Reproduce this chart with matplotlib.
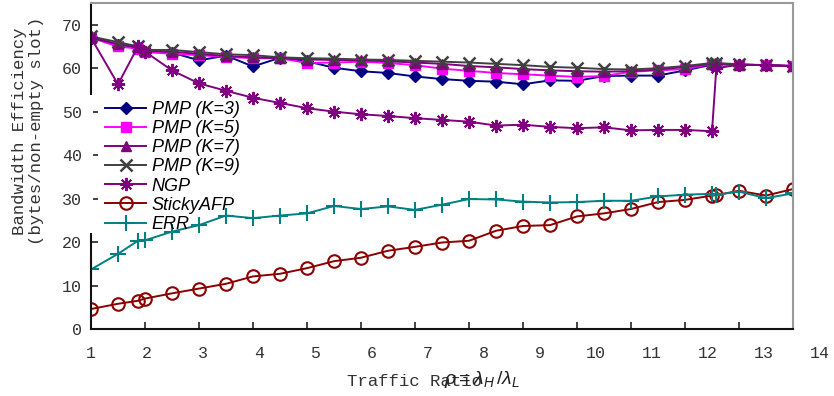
import matplotlib
matplotlib.use("Agg")
import matplotlib.pyplot as plt
import matplotlib.transforms as mtransforms
from matplotlib.patches import Rectangle

plt.rcParams['mathtext.fontset'] = 'custom'
plt.rcParams['mathtext.it'] = 'Liberation Sans:italic'
plt.rcParams['mathtext.rm'] = 'Liberation Sans'

# ---- data ----
traffic_ratio = [1, 1.5, 1.87, 2, 2.5, 3, 3.5, 4, 4.5, 5, 5.5, 6, 6.5, 7, 7.5, 8, 8.5,
                 9, 9.5, 10, 10.5, 11, 11.5, 12, 12.5, 12.58, 13, 13.5, 14]

pmp_k3 = [67.2, 65.4, 64.9, 63.7, 63.6, 61.8, 62.9, 60.4, 62.4, 61.6, 60.1, 59.3, 58.9,
          58.1, 57.5, 57.1, 56.9, 56.3, 57.2, 57.1, 58.2, 58.3, 58.3, 59.5, 60.8, 60.9,
          60.8, 60.7, 60.4]
pmp_k5 = [67.0, 65.0, 64.5, 63.8, 63.3, 63.0, 62.6, 62.3, 62.3, 61.2, 61.3, 61.5, 61.2,
          60.7, 59.9, 59.4, 58.9, 58.6, 58.3, 58.0, 58.2, 59.2, 59.5, 59.8, 61.0, 61.0,
          60.8, 60.7, 60.5]
pmp_k7 = [67.0, 65.5, 64.8, 64.0, 63.8, 63.3, 62.8, 62.5, 62.3, 62.0, 61.9, 61.8, 61.6,
          61.3, 61.0, 60.5, 60.2, 59.8, 59.5, 59.3, 59.2, 59.3, 59.7, 60.3, 61.0, 61.0,
          60.8, 60.7, 60.5]
pmp_k9 = [67.3, 66.0, 65.0, 64.2, 64.2, 63.7, 63.2, 63.0, 62.5, 62.3, 62.2, 62.0, 61.9,
          61.7, 61.5, 61.3, 61.0, 60.7, 60.3, 60.1, 59.8, 59.7, 60.0, 60.5, 61.2, 61.2,
          60.9, 60.7, 60.5]
ngp = [67.0, 56.3, 65.0, 63.8, 59.5, 56.5, 54.8, 53.2, 52.0, 50.8, 50.0, 49.4, 49.0,
       48.5, 48.1, 47.7, 46.8, 47.0, 46.5, 46.2, 46.4, 45.7, 45.8, 45.8, 45.5, 60.0,
       60.8, 60.7, 60.5]
sticky_afp = [4.6, 5.8, 6.5, 7.0, 8.2, 9.3, 10.4, 12.1, 12.7, 14.0, 15.6, 16.4, 18.0,
              18.9, 19.9, 20.3, 22.6, 23.7, 23.9, 25.9, 26.6, 27.6, 29.2, 29.7, 30.7,
              30.8, 31.8, 30.7, 32.2]
err = [13.7, 17.3, 20.3, 20.4, 22.4, 23.9, 26.1, 25.5, 26.1, 26.6, 28.3, 27.6, 28.2,
       27.4, 28.6, 29.9, 29.8, 29.3, 29.1, 29.2, 29.5, 29.5, 30.5, 30.9, 31.1, 30.9,
       31.6, 30.1, 31.2]

series_labels = ['PMP (K=3)', 'PMP (K=5)', 'PMP (K=7)', 'PMP (K=9)', 'NGP', 'StickyAFP', 'ERR']
x_tick_values = list(range(1, 15))
x_tick_labels = [str(v) for v in x_tick_values]
y_tick_values = list(range(0, 71, 10))

# ---- figure ----
W, H = 834, 396
fig = plt.figure(figsize=(W / 100, H / 100), dpi=100)
ax = fig.add_axes([91 / W, 1 - 329 / H, 702 / W, 326 / H])

lw = 1.4
ax.plot(traffic_ratio, pmp_k3, color='#000080', marker='D', ms=6, lw=lw, label=series_labels[0])
ax.plot(traffic_ratio, pmp_k5, color='#FF00FF', marker='s', ms=7, lw=lw, label=series_labels[1])
ax.plot(traffic_ratio, pmp_k7, color='#800080', marker='^', ms=7.5, lw=lw, label=series_labels[2])
ax.plot(traffic_ratio, pmp_k9, color='#404040', marker='x', ms=9, mew=1.8, lw=lw, label=series_labels[3])
ax.plot(traffic_ratio, ngp, color='#800080', marker=(8, 2, 0), ms=9.5, mew=1.4, lw=lw, label=series_labels[4])
ax.plot(traffic_ratio, sticky_afp, color='#8B0000', marker='o', ms=9, mfc='none', mew=1.5, lw=lw, label=series_labels[5])
ax.plot(traffic_ratio, err, color='#008080', marker='+', ms=11, mew=1.5, lw=lw, label=series_labels[6])

ax.set_xlim(1, 14)
ax.set_ylim(0, 75)
ax.set_xticks(x_tick_values)
ax.set_xticklabels([])
ax.set_yticks(y_tick_values)
ax.tick_params(axis='both', direction='in', length=5, width=1.2, color='#222222')
ax.tick_params(axis='y', pad=6.5, labelsize=12, labelcolor='#333333')
for lab in ax.get_yticklabels():
    lab.set_fontfamily('Liberation Mono')

for side in ['left', 'bottom']:
    ax.spines[side].set_color('#111111')
    ax.spines[side].set_linewidth(1.5)
for side in ['top', 'right']:
    ax.spines[side].set_color('#999999')
    ax.spines[side].set_linewidth(1.5)

# x tick labels drawn on their own (wider) scale, as in the reference
ax2 = ax.twiny()
ax2.set_xlim(1, 1 + 702 / 56.1)
ax2.axis('off')
trans = mtransforms.blended_transform_factory(ax2.transData, ax.transAxes)
for v, lab in zip(x_tick_values, x_tick_labels):
    ax.text(v, -24 / 326, lab, transform=trans, ha='center', va='center',
            fontsize=12, family='Liberation Mono', color='#333333', clip_on=False)

leg = ax.legend(loc='upper left', bbox_to_anchor=(4 / 702, 1 - 88 / 326),
                borderaxespad=0, borderpad=0.55, handlelength=2.3, handletextpad=0.3,
                labelspacing=0.12, frameon=False,
                prop={'family': 'Liberation Sans', 'style': 'italic', 'size': 13})

# the key hides the left border behind it in the reference
fig.add_artist(Rectangle((89 / W, 1 - 233 / H), 4 / W, 138 / H,
                         transform=fig.transFigure, facecolor='white',
                         edgecolor='none', zorder=3))

fig.text(28 / W, 1 - 131 / H, 'Bandwidth Efficiency\n(bytes/non-empty slot)',
         rotation=90, ha='center', va='center', multialignment='center',
         fontsize=12.5, family='Liberation Mono', color='#333333', linespacing=1.15)

fig.text(347 / W, 1 - 381 / H, 'Traffic Ratio', ha='left', va='center',
         fontsize=12.5, family='Liberation Mono', color='#333333')
fig.text(444 / W, 1 - 380 / H, r'$\rho=\lambda_H\,/\lambda_L$', ha='left', va='center',
         fontsize=14, color='#222222')

fig.savefig('out.png', dpi=100)
